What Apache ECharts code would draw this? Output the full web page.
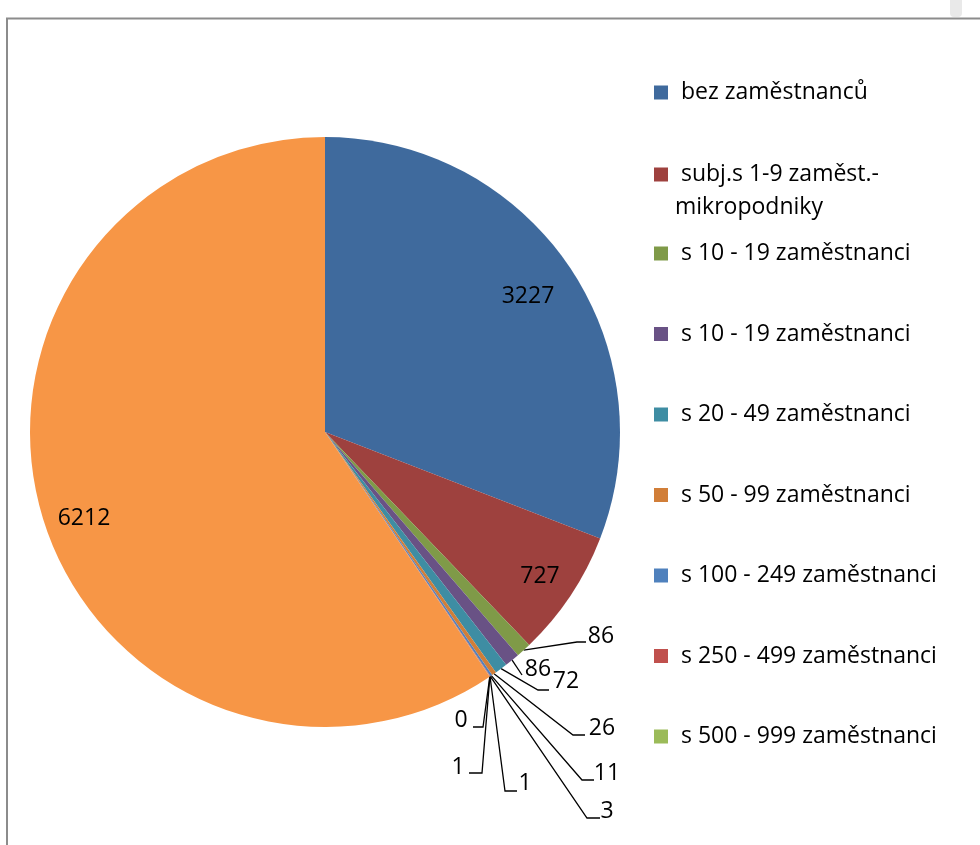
<!DOCTYPE html>
<html>
<head>
<meta charset="utf-8">
<script src="https://cdn.jsdelivr.net/npm/echarts@6/dist/echarts.min.js"></script>
<style>
html,body{margin:0;padding:0;background:#fff;}
#chart{width:980px;height:845px;}
</style>
</head>
<body>
<div id="chart"></div>
<script>
// ---- data ----
const categories = [
  'bez zaměstnanců',
  'subj.s 1-9 zaměst.-mikropodniky',
  's 10 - 19 zaměstnanci',
  's 10 - 19 zaměstnanci ',
  's 20 - 49 zaměstnanci',
  's 50 - 99 zaměstnanci',
  's 100 - 249 zaměstnanci',
  's 250 - 499 zaměstnanci',
  's 500 - 999 zaměstnanci',
  's 1000 - 1499 zaměstnanci',
  's 1500 - 1999 zaměstnanci',
  'ostatní'
];
const values = [3227, 727, 86, 86, 72, 26, 11, 3, 1, 1, 0, 6212];
const legendCount = 9;

// ---- styles ----
const colors = ['#3F6A9D', '#9E413E', '#7F9A48', '#695285', '#3E8DA3', '#D17E38',
                '#4F81BD', '#C0504D', '#9BBB59', '#8064A2', '#4BACC6', '#F79646'];
const FONT = '"Open Sans", sans-serif';
const FS = 23;
// label text centres and leader-line bend points (layout only)
const labelPlacement = [
  {x: 528, y: 296},
  {x: 540, y: 576},
  {x: 601, y: 636, bend: [[577, 642], [586, 642]]},
  {x: 538, y: 669, bend: [[522, 675]]},
  {x: 566, y: 681, bend: [[538, 690], [549, 690]]},
  {x: 602, y: 728, bend: [[573, 735], [585, 735]]},
  {x: 607, y: 773, bend: [[582, 780], [594, 780]]},
  {x: 607, y: 811, bend: [[587, 818], [600, 818]]},
  {x: 525, y: 783, bend: [[505, 791], [517, 791]]},
  {x: 458, y: 767, bend: [[482, 773], [469, 773]]},
  {x: 461, y: 720, bend: [[483, 727], [473, 727]]},
  {x: 84,  y: 518}
];
const pieCenter = [325, 432];
const pieRadius = 295;

const total = values.reduce((a, b) => a + b, 0);
function edgePoint(idx) {
  let cum = 0;
  for (let i = 0; i < idx; i++) cum += values[i];
  const mid = (cum + values[idx] / 2) / total * Math.PI * 2;
  return [pieCenter[0] + pieRadius * Math.sin(mid), pieCenter[1] - pieRadius * Math.cos(mid)];
}

const pieData = categories.map((name, i) => {
  const hasLine = !!labelPlacement[i].bend;
  return {
    name: name,
    value: values[i],
    itemStyle: {color: colors[i]},
    labelLine: {show: hasLine}
  };
});

// legends: one per visible entry so that spacing is uniform
const legendFirstCenter = 92.5;
const legendStep = 80.5;
const legends = [];
for (let i = 0; i < legendCount; i++) {
  const c = legendFirstCenter + i * legendStep + (i === 1 ? 1.5 : 0);
  const isWrapped = i === 1;
  const lh = isWrapped ? 33 : 28;
  legends.push({
    data: [categories[i]],
    left: 654,
    top: isWrapped ? c - (lh * 3) / 2 : c - lh / 2,
    orient: 'vertical',
    padding: 0,
    itemGap: 0,
    itemWidth: 14,
    itemHeight: 14,
    icon: 'rect',
    selectedMode: false,
    itemStyle: {borderWidth: 0},
    formatter: isWrapped ? function () { return ' \n subj.s 1-9 zaměst.-\nmikropodniky'; } : function (n) { return n.trim(); },
    textStyle: {
      fontFamily: FONT,
      fontSize: FS,
      color: '#000',
      lineHeight: lh,
      padding: isWrapped ? [0, 0, 0, 2] : [0, 0, 0, 8]
    }
  });
}

const chart = echarts.init(document.getElementById('chart'), null, {renderer: 'canvas'});
chart.setOption({
  animation: false,
  backgroundColor: '#fff',
  graphic: [
    {type: 'rect', z: 0, shape: {x: 7, y: 18.5, width: 1200, height: 1000},
     style: {fill: 'none', stroke: '#8c8c8c', lineWidth: 2}},
    {type: 'rect', z: 1, shape: {x: 950, y: 0, width: 12, height: 17, r: [0, 0, 4, 4]},
     style: {fill: '#e9e9e9'}}
  ],
  legend: legends,
  series: [{
    type: 'pie',
    center: pieCenter,
    radius: pieRadius,
    startAngle: 90,
    clockwise: true,
    avoidLabelOverlap: false,
    minShowLabelAngle: 0,
    itemStyle: {borderWidth: 0},
    emphasis: {disabled: true},
    label: {
      show: true,
      position: 'outside',
      formatter: '{c}',
      fontFamily: FONT,
      fontSize: FS,
      color: '#000'
    },
    labelLine: {show: true, lineStyle: {color: '#000', width: 1.3}},
    labelLayout: function (params) {
      const p = labelPlacement[params.dataIndex];
      const out = {x: p.x, y: p.y, align: 'center', verticalAlign: 'middle'};
      if (p.bend) {
        const start = edgePoint(params.dataIndex);
        out.labelLinePoints = [start].concat(p.bend);
      }
      return out;
    },
    data: pieData
  }]
});
</script>
</body>
</html>
